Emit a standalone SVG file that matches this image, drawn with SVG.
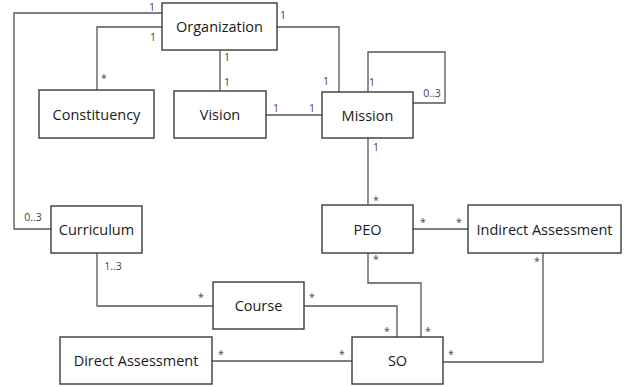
<svg xmlns="http://www.w3.org/2000/svg" width="624" height="387" viewBox="0 0 624 387">
  <style>
    .box { fill: #ffffff; stroke: #3a3a3a; stroke-width: 1.4; }
    .lbl { font-family: "Open Sans", "Liberation Sans", sans-serif; font-size: 14.5px; fill: #1a1a1a; text-anchor: middle; }
    .m { font-family: "Open Sans", "Liberation Sans", sans-serif; font-size: 10.5px; fill: #444444; text-anchor: middle; }
    .c { fill: none; stroke: #555555; stroke-width: 1.3; }
  </style>
  <rect width="624" height="387" fill="#ffffff"/>

  <!-- associations -->
  <g id="connectors">
    <polyline class="c" points="162,13 14,13 14,229 51,229"/>
    <polyline class="c" points="162,27 97,27 97,90"/>
    <line class="c" x1="220" y1="50" x2="220" y2="91"/>
    <polyline class="c" points="277,27 339,27 339,92"/>
    <line class="c" x1="266" y1="115" x2="322" y2="115"/>
    <polyline class="c" points="368,92 368,52 445,52 445,103 413,103"/>
    <line class="c" x1="368" y1="138" x2="368" y2="205"/>
    <line class="c" x1="413" y1="229" x2="468" y2="229"/>
    <polyline class="c" points="368,253 368,283 421,283 421,337"/>
    <polyline class="c" points="97,253 97,306 213,306"/>
    <polyline class="c" points="304,306 397,306 397,337"/>
    <line class="c" x1="212" y1="361" x2="352" y2="361"/>
    <polyline class="c" points="543,253 543,362 443,362"/>
  </g>

  <!-- multiplicities -->
  <g id="multiplicities">
    <text class="m" x="152" y="11">1</text>
    <text class="m" x="153" y="41">1</text>
    <text class="m" x="283" y="19">1</text>
    <text class="m" x="104" y="82">*</text>
    <text class="m" x="227" y="61">1</text>
    <text class="m" x="227" y="86">1</text>
    <text class="m" x="276" y="112">1</text>
    <text class="m" x="312" y="112">1</text>
    <text class="m" x="326" y="85">1</text>
    <text class="m" x="372" y="86">1</text>
    <text class="m" x="432" y="97">0..3</text>
    <text class="m" x="376" y="151">1</text>
    <text class="m" x="33" y="221">0..3</text>
    <text class="m" x="113" y="270">1..3</text>
    <text class="m" x="201" y="301">*</text>
    <text class="m" x="312" y="301">*</text>
    <text class="m" x="221" y="358">*</text>
    <text class="m" x="376" y="204">*</text>
    <text class="m" x="423" y="226">*</text>
    <text class="m" x="459" y="226">*</text>
    <text class="m" x="376" y="263">*</text>
    <text class="m" x="537" y="265">*</text>
    <text class="m" x="387" y="335">*</text>
    <text class="m" x="428" y="335">*</text>
    <text class="m" x="342" y="358">*</text>
    <text class="m" x="451" y="358">*</text>
  </g>

  <g id="organization">
    <rect class="box" x="162" y="3" width="115" height="47"/>
    <text class="lbl" x="219.5" y="32">Organization</text>
  </g>
  <g id="constituency">
    <rect class="box" x="39" y="90" width="115" height="48"/>
    <text class="lbl" x="96.5" y="119.5">Constituency</text>
  </g>
  <g id="vision">
    <rect class="box" x="174" y="91" width="92" height="47"/>
    <text class="lbl" x="220" y="119.5">Vision</text>
  </g>
  <g id="mission">
    <rect class="box" x="322" y="92" width="91" height="46"/>
    <text class="lbl" x="367.5" y="120.5">Mission</text>
  </g>
  <g id="curriculum">
    <rect class="box" x="51" y="206" width="91" height="47"/>
    <text class="lbl" x="96.5" y="234.5">Curriculum</text>
  </g>
  <g id="peo">
    <rect class="box" x="322" y="205" width="91" height="48"/>
    <text class="lbl" x="367.5" y="234.5">PEO</text>
  </g>
  <g id="indirect-assessment">
    <rect class="box" x="468" y="205" width="153" height="48"/>
    <text class="lbl" x="544.5" y="234.5">Indirect Assessment</text>
  </g>
  <g id="course">
    <rect class="box" x="213" y="282" width="91" height="47"/>
    <text class="lbl" x="258.5" y="311">Course</text>
  </g>
  <g id="direct-assessment">
    <rect class="box" x="60" y="337" width="152" height="47"/>
    <text class="lbl" x="136" y="366">Direct Assessment</text>
  </g>
  <g id="so">
    <rect class="box" x="352" y="337" width="91" height="47"/>
    <text class="lbl" x="397.5" y="366">SO</text>
  </g>
</svg>
